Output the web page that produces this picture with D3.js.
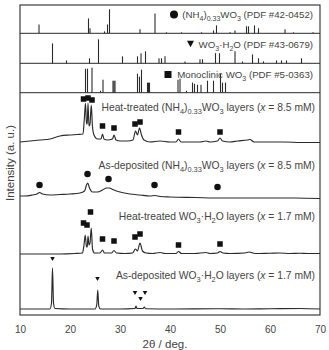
<!DOCTYPE html>
<html><head><meta charset="utf-8">
<script src="https://cdn.jsdelivr.net/npm/d3@7"></script>
<style>body{margin:0;background:#fff}svg{display:block}</style>
</head><body><svg id="c" width="329" height="350"></svg>
<script>
// ---------- DATA ----------
const xTicks = [10, 20, 30, 40, 50, 60, 70];

// Reference stick patterns: [2theta, relative intensity (0-100)]
const refNH4 = [[13.8,37],[23.7,62],[24.0,21],[26.9,8],[27.5,37],[27.9,100],[34.0,17],[37.0,83],[39.3,4],[42.3,4],[46.3,4],[48.7,12],[49.3,33],[52.0,4],[53.0,12],[55.3,29],[55.7,29],[56.9,33],[57.7,21],[63.0,17],[64.7,4],[68.6,4]];
const refHyd = [[16.5,83],[19.3,12],[23.9,21],[25.7,100],[30.5,29],[33.5,29],[34.2,42],[35.1,50],[37.8,21],[38.3,21],[39.0,29],[43.0,8],[46.0,17],[46.5,17],[49.1,42],[49.9,42],[53.0,50],[54.5,8],[56.5,37],[57.7,21],[58.7,8],[61.3,12],[62.3,12],[63.3,12],[66.3,21]];
const refMono = [[23.1,100],[23.5,100],[24.4,104],[26.1,8],[26.6,54],[28.6,50],[28.8,50],[29.0,50],[33.5,79],[33.9,67],[34.3,96],[35.5,42],[35.7,42],[35.9,42],[41.6,54],[42.0,58],[43.3,8],[44.5,42],[44.9,37],[45.5,33],[46.2,33],[47.5,50],[48.7,50],[50.1,79],[50.5,42],[51.1,42]];
const refNames = [
  [{t:"(NH"},{t:"4",s:1},{t:")"},{t:"0.33",s:1},{t:"WO"},{t:"3",s:1},{t:" (PDF #42-0452)"}],
  [{t:"WO"},{t:"3",s:1},{t:"·H"},{t:"2",s:1},{t:"O (PDF #43-0679)"}],
  [{t:"Monoclinic WO"},{t:"3",s:1},{t:" (PDF #5-0363)"}]
];

// Measured patterns: [2theta, intensity (a.u., stacked)]
const htNH4 = [[10,173],[12,174],[14,175],[16,176],[18,179],[20,180],[21.5,180.5],[22.6,181],[22.85,195],[23.1,212],[23.3,191],[23.45,191],[23.6,212],[23.8,189],[24.0,191],[24.25,210],[24.5,188],[24.8,180],[25.5,176],[26.2,176],[26.5,181],[26.8,176],[27.5,175],[28.5,176],[28.8,180],[29.2,175],[30,174],[31.5,174],[32.6,175],[33.1,184],[33.5,180],[33.9,187],[34.3,180],[34.8,175],[36,173],[38,174],[40,173],[41.2,173],[41.7,176],[42.2,173],[44,173],[46,173],[47.2,174],[48,173],[49.5,174],[50,177],[50.5,174],[52,173],[53.5,174],[55.5,175],[56,175.5],[56.8,173],[60,173],[63,173],[66,172.5],[70,172.5]];
const adNH4 = [[10,119],[11,119],[12.5,120],[13.4,121],[13.9,122.5],[14.5,121],[16,120],[18,120.5],[20,121],[22,122],[22.9,124],[23.3,130],[23.55,132],[23.9,127],[24.5,123],[25.5,123],[26.5,125],[27.3,127],[27.8,127],[28.8,125],[30,123],[32,121],[34,120],[36,119],[37,119.5],[38,118.5],[40,118],[45,117.5],[50,117],[55,117],[60,117],[65,117],[70,116.5]];
const htHyd = [[10,61],[14,61],[18,61],[21,61.5],[22.5,62],[22.8,70],[23.05,80],[23.3,68],[23.45,68],[23.6,79],[23.8,70],[24.0,72],[24.25,87],[24.5,66],[24.9,62],[26,62],[26.5,65],[26.9,62],[28.3,62],[28.8,64.5],[29.3,62],[31,61.5],[32.5,62],[33.1,66],[33.5,64],[34.0,72],[34.5,64],[35.2,62],[36.5,61.5],[38,62.5],[39,61.5],[41.2,61.5],[41.7,63.5],[42.3,61.5],[45,61.5],[47.2,62.5],[48,61.5],[49.5,62],[50,63.5],[50.6,62],[52,61.5],[55,62],[55.8,63],[57,61.5],[60,61.8],[62,62],[64,61.5],[66,61.8],[67.5,61.5],[70,61.5]];
const adHyd = [[10,6],[14,6],[16.0,6],[16.3,12],[16.5,47],[16.7,12],[17.0,6.5],[20,6],[25,6],[25.35,10],[25.55,25],[25.75,9],[26.1,6],[30,6],[33.0,6.5],[33.2,9],[33.4,6.5],[34.6,6.5],[34.85,8],[35.1,6.3],[40,6],[50,6.3],[55,6],[60,6.2],[66,6.5],[70,6]];

// Phase markers: [2theta, intensity position]
const htNH4Sq = [[22.7,216],[23.6,217],[24.4,215],[26.5,189],[28.8,187],[33.0,191],[34.0,193],[41.7,183],[50.0,183]];
const adNH4Ci = [[13.9,130],[23.5,141],[27.7,136],[36.9,130],[49.5,128]];
const htHydSq = [[22.7,92],[23.4,90],[24.1,103],[26.5,76],[28.8,74],[33.0,78],[34.0,81],[41.7,70],[50.0,71]];
const adHydTri = [[16.5,56],[25.5,36],[33.0,22],[34.1,16],[35.0,22]];

const sampleNames = [
  [{t:"Heat-treated (NH"},{t:"4",s:1},{t:")"},{t:"0.33",s:1},{t:"WO"},{t:"3",s:1},{t:" layers ("},{t:"x",i:1},{t:" = 8.5 mM)"}],
  [{t:"As-deposited (NH"},{t:"4",s:1},{t:")"},{t:"0.33",s:1},{t:"WO"},{t:"3",s:1},{t:" layers ("},{t:"x",i:1},{t:" = 8.5 mM)"}],
  [{t:"Heat-treated WO"},{t:"3",s:1},{t:"·H"},{t:"2",s:1},{t:"O layers ("},{t:"x",i:1},{t:" = 1.7 mM)"}],
  [{t:"As-deposited WO"},{t:"3",s:1},{t:"·H"},{t:"2",s:1},{t:"O layers ("},{t:"x",i:1},{t:" = 1.7 mM)"}]
];

// ---------- DRAW ----------
const svg = d3.select("#c");
const FONT = "'Liberation Sans', Arial, sans-serif";
const INK = "#2a2a2a", TXT = "#444";
const L = 20, R = 320, T = 5, B = 315;
const x = d3.scaleLinear().domain([10, 70]).range([L, R]);
const y = d3.scaleLinear().domain([0, 222]).range([B, 93]);

function richText(g, parts, fs) {
  const t = g.append("text").attr("font-family", FONT).attr("font-size", fs).attr("fill", TXT);
  let sub = false;
  parts.forEach(p => {
    const ts = t.append("tspan").text(p.t);
    if (p.s && !sub) { ts.attr("dy", fs*0.3).attr("font-size", fs*0.72); sub = true; }
    else if (p.s && sub) { ts.attr("font-size", fs*0.72); }
    else if (!p.s && sub) { ts.attr("dy", -fs*0.3); sub = false; }
    if (p.i) ts.attr("font-style", "italic");
  });
  return t;
}

const panels = [
  {data: refNH4, bottom: 33.3, name: refNames[0], ty: 18, marker: "circle", mx: 174, my: 14.5},
  {data: refHyd, bottom: 63.3, name: refNames[1], ty: 48, marker: "tri", mx: 190.5, my: 44},
  {data: refMono, bottom: 92.7, name: refNames[2], ty: 78, marker: "square", mx: 168, my: 74.5}
];
function drawMarker(g, type, cx, cy, size) {
  if (type === "circle") g.append("circle").attr("cx", cx).attr("cy", cy).attr("r", size/2).attr("fill", "#111");
  else if (type === "square") g.append("rect").attr("x", cx-size/2).attr("y", cy-size/2).attr("width", size).attr("height", size).attr("fill", "#111");
  else g.append("path").attr("d", `M${cx-size/2},${cy-size*0.45}L${cx+size/2},${cy-size*0.45}L${cx},${cy+size*0.45}Z`).attr("fill", "#111");
}
panels.forEach(p => {
  const yr = d3.scaleLinear().domain([0, 100]).range([p.bottom, p.bottom - 24]);
  svg.append("g").selectAll("line").data(p.data).join("line")
    .attr("x1", d => x(d[0])).attr("x2", d => x(d[0]))
    .attr("y1", yr(0)).attr("y2", d => yr(d[1]))
    .attr("stroke", INK).attr("stroke-width", 1.1);
  svg.append("line").attr("x1", L).attr("x2", R).attr("y1", p.bottom).attr("y2", p.bottom)
    .attr("stroke", INK).attr("stroke-width", 1);
  richText(svg.append("g"), p.name, 9.7).attr("x", 313).attr("y", p.ty).attr("text-anchor", "end");
  drawMarker(svg, p.marker, p.mx, p.my, p.marker === "circle" ? 8 : 7);
});

// measured patterns
const line = d3.line().x(d => x(d[0])).y(d => y(d[1])).curve(d3.curveMonotoneX);
[htNH4, adNH4, htHyd, adHyd].forEach(s => {
  svg.append("path").attr("d", line(s)).attr("fill", "none").attr("stroke", INK).attr("stroke-width", 1.15);
});
htNH4Sq.concat(htHydSq).forEach(d => drawMarker(svg, "square", x(d[0]), y(d[1]), 5.5));
adNH4Ci.forEach(d => drawMarker(svg, "circle", x(d[0]), y(d[1]), 6.5));
adHydTri.forEach(d => drawMarker(svg, "tri", x(d[0]), y(d[1]), 4.5));

// sample labels
const labelY = [111, 169, 220, 279];
sampleNames.forEach((s, i) => {
  richText(svg.append("g"), s, 10.3).attr("x", 315).attr("y", labelY[i]).attr("text-anchor", "end");
});

// frame
svg.append("rect").attr("x", L).attr("y", T).attr("width", R-L).attr("height", B-T)
  .attr("fill", "none").attr("stroke", INK).attr("stroke-width", 1.1);

// x axis
const ax = svg.append("g").attr("transform", `translate(0,${B})`)
  .call(d3.axisBottom(x).tickValues(xTicks).tickSize(0).tickPadding(10.5));
ax.select(".domain").remove();
ax.selectAll("text").attr("font-family", FONT).attr("font-size", 10).attr("fill", TXT);

svg.append("text").attr("x", 165).attr("y", 348).attr("text-anchor", "middle")
  .attr("font-family", FONT).attr("font-size", 11.5).attr("fill", TXT).text("2θ / deg.");
svg.append("text").attr("transform", "translate(14,163) rotate(-90)").attr("text-anchor", "middle")
  .attr("font-family", FONT).attr("font-size", 11.5).attr("fill", TXT).text("Intensity (a. u.)");
</script></body></html>
